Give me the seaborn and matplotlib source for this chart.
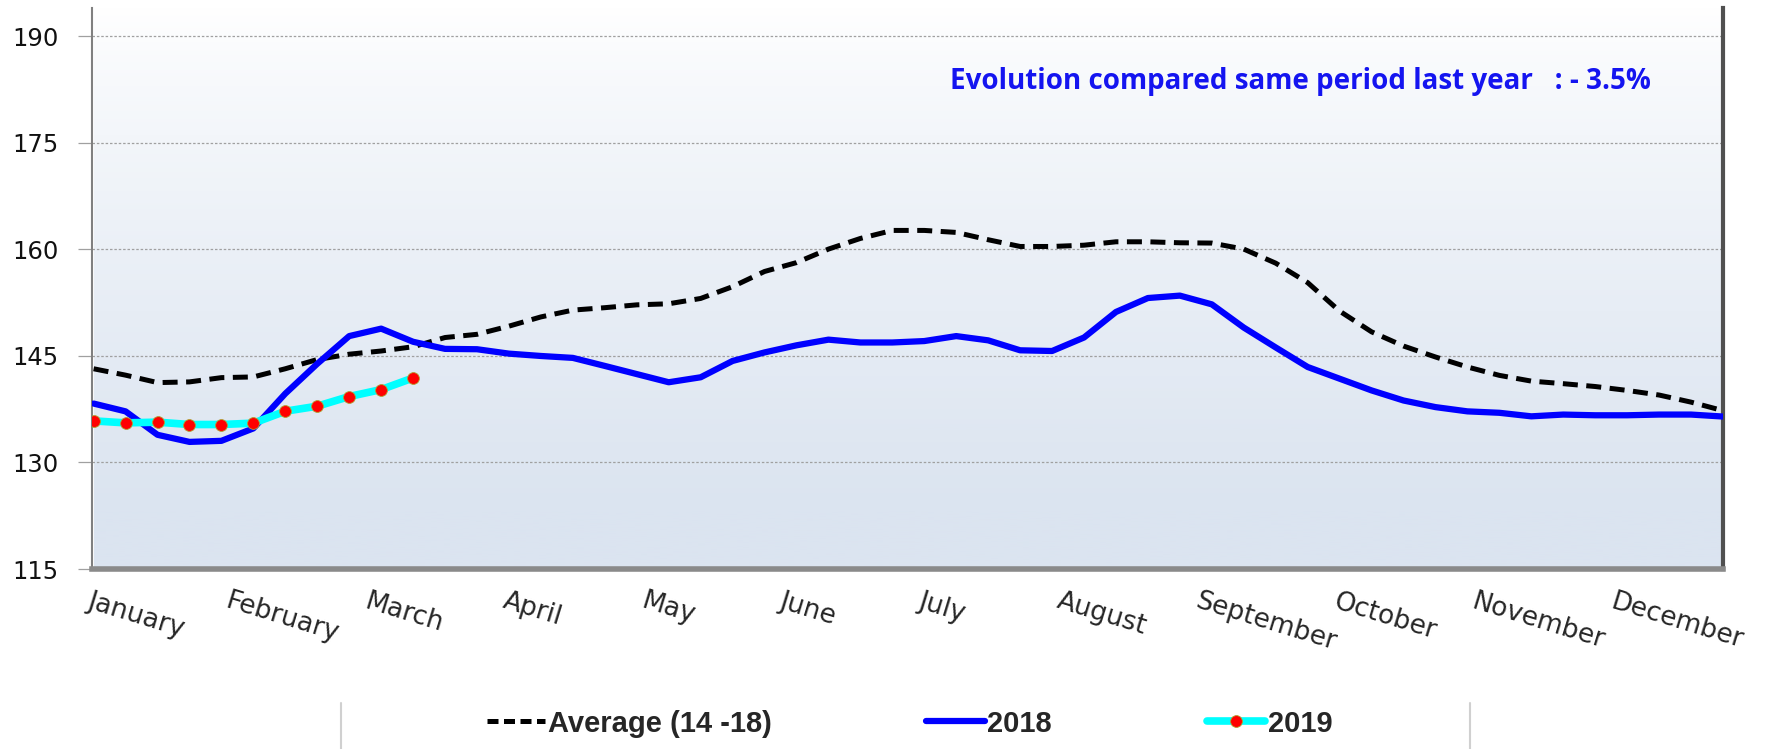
import numpy as np
import pandas as pd
import seaborn as sns
import matplotlib.pyplot as plt
from matplotlib.lines import Line2D
from matplotlib.colors import LinearSegmentedColormap

# weekly values, 52 weeks
average_14_18 = [143.2, 142.3, 141.25, 141.35, 141.95, 142.05, 143.2, 144.5, 145.25, 145.7,
                 146.3, 147.6, 148.05, 149.2, 150.5, 151.46, 151.8, 152.2, 152.35, 153.1,
                 154.76, 156.9, 158.15, 160.05, 161.55, 162.68, 162.68, 162.4, 161.37, 160.42,
                 160.42, 160.6, 161.08, 161.08, 160.94, 160.9, 160.05, 158.07, 155.33, 151.32,
                 148.4, 146.4, 144.86, 143.45, 142.27, 141.46, 141.1, 140.7, 140.15, 139.5,
                 138.5, 137.3]
values_2018 = [138.3, 137.2, 133.9, 132.9, 133.05, 134.8, 139.7, 143.9, 147.8, 148.85,
               147.0, 146.0, 145.95, 145.33, 145.0, 144.73, 143.6, 142.45, 141.3, 142.0,
               144.3, 145.5, 146.5, 147.3, 146.9, 146.9, 147.1, 147.8, 147.2, 145.8,
               145.7, 147.6, 151.2, 153.16, 153.5, 152.27, 149.0, 146.2, 143.45, 141.8,
               140.15, 138.73, 137.8, 137.2, 137.0, 136.5, 136.75, 136.65, 136.65, 136.75,
               136.75, 136.47]
values_2019 = [135.86, 135.58, 135.68, 135.35, 135.35, 135.54, 137.22, 137.93, 139.29, 140.27,
               141.91]
months = ['January', 'February', 'March', 'April', 'May', 'June', 'July', 'August',
          'September', 'October', 'November', 'December']
y_ticks = [115, 130, 145, 160, 175, 190]
note = 'Evolution compared same period last year   : - 3.5%'

weeks = np.arange(len(values_2018))
df = pd.DataFrame({'week': weeks, 'avg': average_14_18, 'y2018': values_2018})
df19 = pd.DataFrame({'week': np.arange(len(values_2019)), 'y2019': values_2019})

sns.set_style('white')
plt.rcParams['font.family'] = ['DejaVu Sans']

fig = plt.figure(figsize=(17.73, 7.49), dpi=100)
ax = fig.add_axes([0.0519, 0.2403, 0.9199, 0.749])

# plot area gradient: white at top, pale blue-grey at bottom
ymin, ymax = 115, 194
grad = np.linspace(1, 0, 256).reshape(-1, 1)
grad = np.clip(grad / 0.9, 0, 1) ** 0.8
cmap = LinearSegmentedColormap.from_list('bg', ['#ffffff', '#dbe4f0'])
ax.imshow(grad, extent=[0, weeks[-1], ymin, ymax], aspect='auto', cmap=cmap,
          origin='lower', zorder=0)

for t in y_ticks[1:]:
    ax.axhline(t, color='#a0a0a0', lw=0.9, ls=(0, (2, 1.5)), zorder=1)

sns.lineplot(data=df, x='week', y='avg', ax=ax, color='black', lw=3.6,
             zorder=3, label='Average (14 -18)')
ax.lines[-1].set_dashes((3.0, 1.7))
sns.lineplot(data=df, x='week', y='y2018', ax=ax, color='#0000ff', lw=4.5,
             zorder=4, label='2018')
sns.lineplot(data=df19, x='week', y='y2019', ax=ax, color='#00ffff', lw=5.5,
             marker='o', markersize=8.5, markerfacecolor='#ff0000',
             markeredgecolor='#b0a030', markeredgewidth=0.6, zorder=5, label='2019')

ax.set_xlim(0, weeks[-1])
ax.set_ylim(ymin, ymax)
ax.set_xlabel('')
ax.set_ylabel('')
ax.set_yticks(y_ticks)
ax.set_yticklabels([str(t) for t in y_ticks], fontsize=17.5, color='#111111')
ax.tick_params(axis='y', length=10, width=0.9, color='#a0a0a0', pad=14, left=True)

tick_pos = [k * 52 / 12 - 0.05 for k in range(12)]
ax.set_xticks(tick_pos)
ax.set_xticklabels(months, fontsize=19, rotation=-17, ha='left', va='top',
                   rotation_mode='anchor')
ax.tick_params(axis='x', length=0, pad=14)

ax.spines['top'].set_visible(False)
ax.spines['left'].set_color('#808080')
ax.spines['left'].set_linewidth(1.5)
ax.spines['right'].set_color('#505050')
ax.spines['right'].set_linewidth(3)
ax.spines['bottom'].set_color('#8a8a8a')
ax.spines['bottom'].set_linewidth(4)

ax.text(0.526, 0.869, note, transform=ax.transAxes, fontsize=20, fontweight='bold',
        color='#1414f0', family=['Open Sans', 'DejaVu Sans'], va='center', ha='left')

handles, labels = ax.get_legend_handles_labels()
ax.get_legend().remove()
leg = fig.legend(handles, labels, loc='center', bbox_to_anchor=(0.513, 0.034), ncol=3,
                 frameon=False, handlelength=2.0, handletextpad=0.1, columnspacing=5.3,
                 prop={'family': ['Liberation Sans', 'DejaVu Sans'],
                       'weight': 'bold', 'size': 21})
leg.legend_handles[0].set_dashes((2.2, 1.1))

for xf in [341 / 1773, 1470 / 1773]:
    fig.add_artist(Line2D([xf, xf], [0, 46 / 749], color='#d0d0d0', lw=1.5))

fig.savefig('out.png', dpi=100)
